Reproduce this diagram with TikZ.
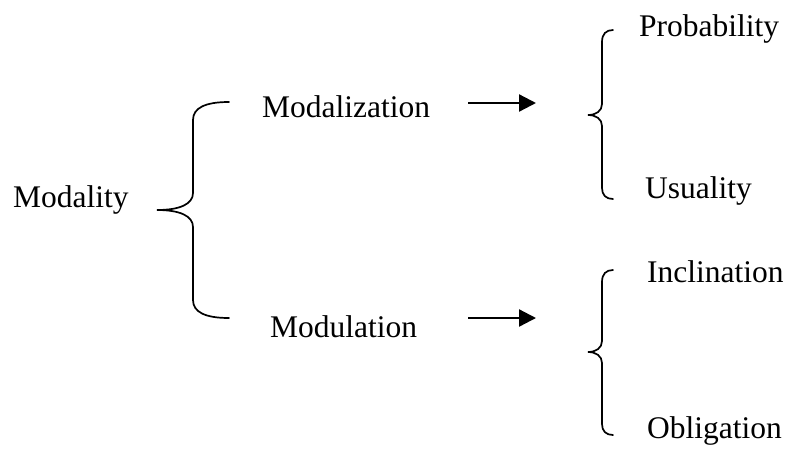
\documentclass[tikz,border=0pt]{standalone}
\usepackage{fontspec}
\setmainfont{Liberation Serif}
\usetikzlibrary{arrows.meta}
\begin{document}
\begin{tikzpicture}[x=1pt,y=-1pt,
  lbl/.style={anchor=base west,inner sep=0pt,font=\fontsize{31.5}{36}\selectfont},
  brace/.style={line width=1.7pt,line cap=round},
  arr/.style={line width=2.3pt,-{Triangle[length=17pt,width=17pt]}}]
\useasboundingbox (0,0) rectangle (787,451);
% texts
\node[lbl] (modality) at (13,207) {Modality};
\node[lbl] (modalization) at (262,117) {Modalization};
\node[lbl] (modulation) at (270,337) {Modulation};
\node[lbl] (prob) at (639,36) {Probability};
\node[lbl] (usu) at (645,198) {Usuality};
\node[lbl] (incl) at (647,282) {Inclination};
\node[lbl] (obl) at (647,438) {Obligation};
% big brace
\coordinate (bt) at (229,102);
\coordinate (bm) at (157,210);
\coordinate (bb) at (229,318);
\draw[brace] (bt) .. controls (205,102) and (193,108) .. (193,120)
  -- (193,193) .. controls (193,204) and (180,210) .. (bm)
  .. controls (180,210) and (193,216) .. (193,227)
  -- (193,300) .. controls (193,312) and (205,318) .. (bb);
% right brace 1
\coordinate (r1t) at (613,30);
\coordinate (r1m) at (588,115);
\coordinate (r1b) at (613,199);
\draw[brace] (r1t) .. controls (606,30) and (602,34) .. (602,42)
  -- (602,104) .. controls (602,111) and (596,115) .. (r1m)
  .. controls (596,115) and (602,119) .. (602,126)
  -- (602,188) .. controls (602,195) and (606,199) .. (r1b);
% right brace 2
\coordinate (r2t) at (613,270);
\coordinate (r2m) at (588,352);
\coordinate (r2b) at (613,435);
\draw[brace] (r2t) .. controls (606,270) and (602,274) .. (602,282)
  -- (602,341) .. controls (602,348) and (596,352) .. (r2m)
  .. controls (596,352) and (602,356) .. (602,363)
  -- (602,424) .. controls (602,431) and (606,435) .. (r2b);
% arrows
\coordinate (a1s) at (468,103);
\coordinate (a1e) at (536,103);
\coordinate (a2s) at (468,318);
\coordinate (a2e) at (536,318);
\draw[arr] (a1s) -- (a1e);
\draw[arr] (a2s) -- (a2e);
\end{tikzpicture}
\end{document}
